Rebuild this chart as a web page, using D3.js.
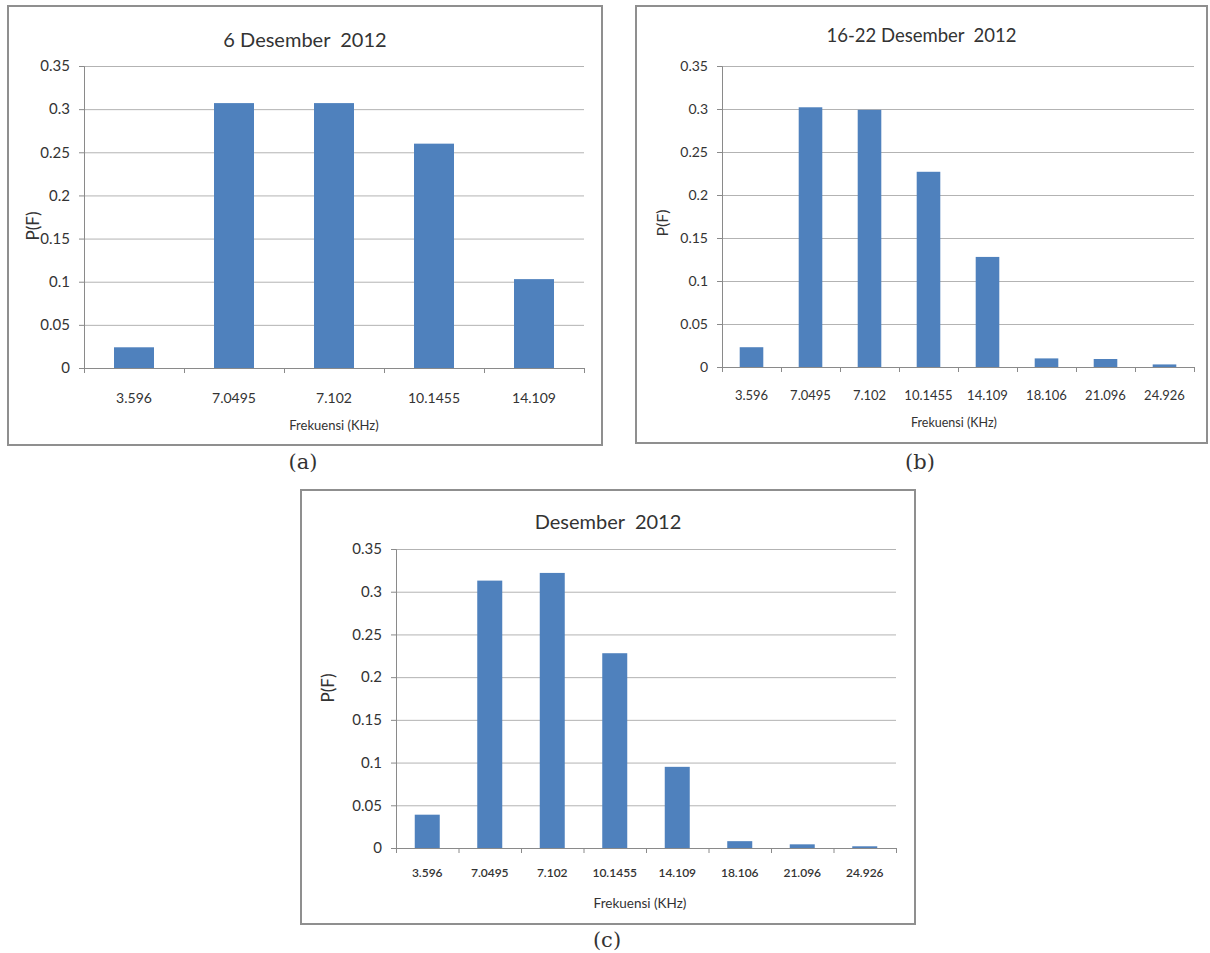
<!DOCTYPE html>
<html>
<head>
<meta charset="utf-8">
<script src="https://cdn.jsdelivr.net/npm/d3@7"></script>
<style>
  body { margin: 0; background: #fff; }
  svg { display: block; }
  text { font-family: Lato, "Open Sans", sans-serif; fill: #333; }
</style>
</head>
<body>
<svg width="1210" height="953"></svg>
<script>
// data
const catsA = ['3.596', '7.0495', '7.102', '10.1455', '14.109'];
const valsA = [0.024, 0.307, 0.307, 0.26, 0.103];

const catsB = ['3.596', '7.0495', '7.102', '10.1455', '14.109', '18.106', '21.096', '24.926'];
const valsB = [0.023, 0.302, 0.299, 0.227, 0.128, 0.010, 0.0093, 0.003];

const catsC = ['3.596', '7.0495', '7.102', '10.1455', '14.109', '18.106', '21.096', '24.926'];
const valsC = [0.039, 0.313, 0.322, 0.228, 0.095, 0.008, 0.0043, 0.002];

const yTicks = [0, 0.05, 0.1, 0.15, 0.2, 0.25, 0.3, 0.35];
const titles = ['6 Desember  2012', '16-22 Desember  2012', 'Desember  2012'];
const xTitle = 'Frekuensi (KHz)';
const yTitle = 'P(F)';
const panelLabels = ['(a)', '(b)', '(c)'];

const svg = d3.select('svg');

function drawPanel(cats, vals, title, label, cfg) {
    const g = svg.append('g');

    // outer frame
    g.append('rect')
        .attr('x', cfg.box.x)
        .attr('y', cfg.box.y)
        .attr('width', cfg.box.w)
        .attr('height', cfg.box.h)
        .attr('fill', '#fff')
        .attr('stroke', '#8f8f8f')
        .attr('stroke-width', 2);

    const yScale = d3.scaleLinear()
        .domain([0, 0.35])
        .range([cfg.bottom, cfg.top]);

    const xScale = d3.scaleBand()
        .domain(cats)
        .range([cfg.left, cfg.right])
        .paddingInner(0.6)
        .paddingOuter(0.3);

    const xEdge = d3.scaleLinear()
        .domain([0, cats.length])
        .range([cfg.left, cfg.right]);

    // gridlines
    g.append('g')
        .attr('transform', `translate(${cfg.left},0)`)
        .call(d3.axisLeft(yScale).tickValues(yTicks.slice(1)).tickSize(-(cfg.right - cfg.left)).tickFormat(''))
        .call(s => s.select('.domain').remove())
        .call(s => s.selectAll('line').attr('stroke', '#b3b3b3'));

    // bars
    g.selectAll('.bar')
        .data(cats.map((c, i) => ({ c, v: vals[i] })))
        .join('rect')
        .attr('class', 'bar')
        .attr('x', d => xScale(d.c))
        .attr('y', d => yScale(d.v))
        .attr('width', xScale.bandwidth())
        .attr('height', d => cfg.bottom - yScale(d.v))
        .attr('fill', '#4f81bd');

    // y axis
    g.append('g')
        .attr('transform', `translate(${cfg.left},0)`)
        .call(d3.axisLeft(yScale).tickValues(yTicks).tickSize(5).tickPadding(cfg.yPad).tickFormat(d => String(d)))
        .call(s => s.select('.domain').attr('stroke', '#8a8a8a'))
        .call(s => s.selectAll('line').attr('stroke', '#8a8a8a'))
        .call(s => s.selectAll('text')
            .style('font-family', 'Lato, sans-serif')
            .style('font-size', cfg.yFont + 'px')
            .attr('fill', '#3a3a3a'));

    // x axis: tick marks at category edges
    g.append('g')
        .attr('transform', `translate(0,${cfg.bottom})`)
        .call(d3.axisBottom(xEdge).tickValues(d3.range(cats.length + 1)).tickSize(5).tickFormat(''))
        .call(s => s.select('.domain').attr('stroke', '#8a8a8a'))
        .call(s => s.selectAll('line').attr('stroke', '#8a8a8a'));

    // x labels
    g.append('g')
        .attr('transform', `translate(0,${cfg.xLabelY})`)
        .call(d3.axisBottom(xScale).tickSize(0).tickPadding(0))
        .call(s => s.select('.domain').remove())
        .call(s => s.selectAll('text')
            .attr('dy', '0.35em')
            .style('font-family', 'Lato, sans-serif')
            .style('font-size', cfg.xFont + 'px')
            .style('font-weight', cfg.xWeight || 400)
            .attr('fill', '#3a3a3a'));

    // title
    g.append('text')
        .text(title)
        .attr('x', cfg.box.x + cfg.box.w / 2)
        .attr('y', cfg.titleY)
        .attr('dy', '0.35em')
        .style('text-anchor', 'middle')
        .style('font-size', cfg.titleFont + 'px')
        .style('white-space', 'pre');

    // axis titles
    g.append('text')
        .text(xTitle)
        .attr('x', cfg.xTitle[0])
        .attr('y', cfg.xTitle[1])
        .attr('dy', '0.35em')
        .style('text-anchor', 'middle')
        .style('font-size', cfg.xTitleFont + 'px');

    g.append('text')
        .text(yTitle)
        .attr('transform', `translate(${cfg.yTitle[0]},${cfg.yTitle[1]}) rotate(-90)`)
        .attr('dy', '0.35em')
        .style('text-anchor', 'middle')
        .style('font-size', cfg.yTitleFont + 'px');

    // panel label under the frame
    svg.append('text')
        .text(label)
        .attr('x', cfg.label[0])
        .attr('y', cfg.label[1])
        .attr('dy', '0.35em')
        .style('text-anchor', 'middle')
        .style('font-family', '"DejaVu Serif", serif')
        .style('font-size', '21px')
        .attr('fill', '#111');
}

drawPanel(catsA, valsA, titles[0], panelLabels[0], {
    box: { x: 8, y: 6, w: 594, h: 439 },
    left: 84, right: 584, top: 66, bottom: 368,
    yPad: 9, yFont: 15, xFont: 14, xLabelY: 398,
    titleY: 40, titleFont: 20,
    xTitle: [334, 425], xTitleFont: 13,
    yTitle: [33, 226], yTitleFont: 17,
    label: [303, 462]
});

drawPanel(catsB, valsB, titles[1], panelLabels[1], {
    box: { x: 636, y: 6, w: 571, h: 437 },
    left: 722, right: 1194, top: 66, bottom: 367,
    yPad: 9, yFont: 14, xFont: 13, xLabelY: 395,
    titleY: 36, titleFont: 18.5,
    xTitle: [954, 423], xTitleFont: 12.5,
    yTitle: [662, 223], yTitleFont: 16,
    label: [920, 462]
});

drawPanel(catsC, valsC, titles[2], panelLabels[2], {
    box: { x: 301, y: 490, w: 614, h: 434 },
    left: 396, right: 896, top: 549, bottom: 848,
    yPad: 9, yFont: 15, xFont: 12, xWeight: 600, xLabelY: 873,
    titleY: 522, titleFont: 20,
    xTitle: [640, 903], xTitleFont: 13.5,
    yTitle: [328, 688], yTitleFont: 17,
    label: [607, 940]
});
</script>
</body>
</html>
